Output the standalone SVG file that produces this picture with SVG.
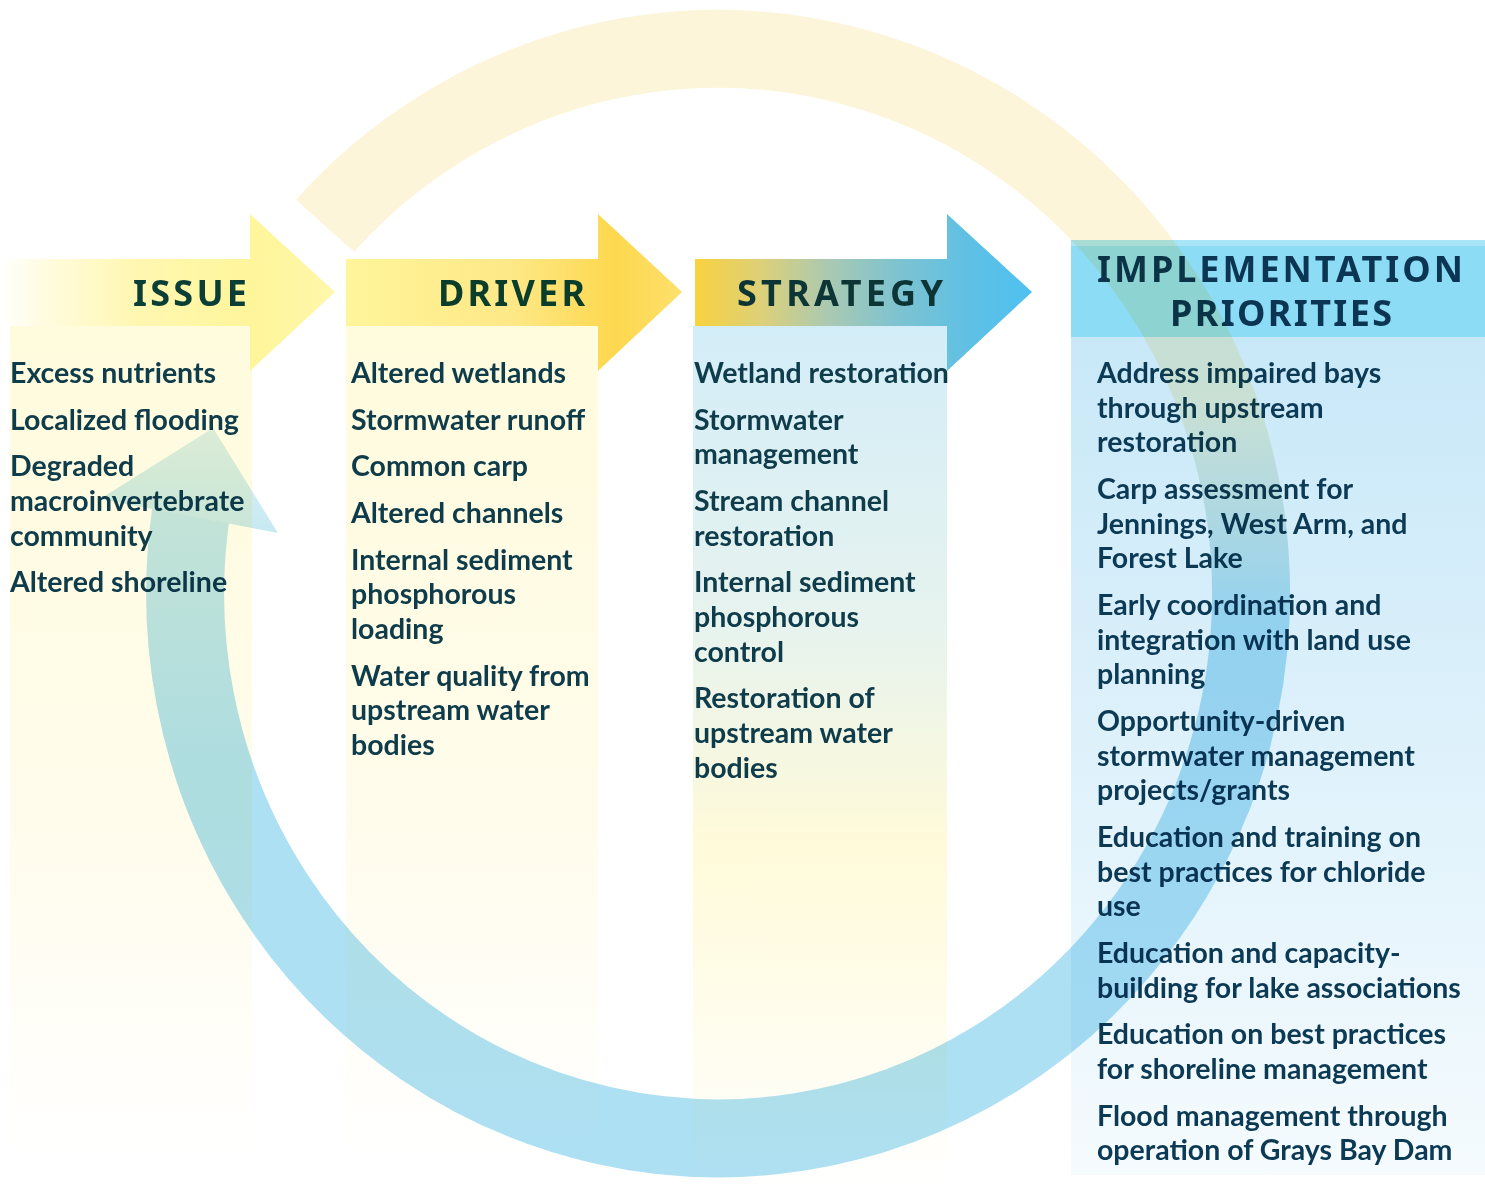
<svg xmlns="http://www.w3.org/2000/svg" width="1485" height="1195" viewBox="0 0 1485 1195">
<defs>
<linearGradient id="gIssueHead" gradientUnits="userSpaceOnUse" x1="0" y1="0" x2="335" y2="0">
<stop offset="0" stop-color="#ffffff"/><stop offset="0.12" stop-color="#fffce2"/><stop offset="0.4" stop-color="#fff7b2"/><stop offset="0.75" stop-color="#fff59b"/><stop offset="1" stop-color="#fff7aa"/>
</linearGradient>
<linearGradient id="gDriverHead" gradientUnits="userSpaceOnUse" x1="346" y1="0" x2="682" y2="0">
<stop offset="0" stop-color="#fff59b"/><stop offset="0.5" stop-color="#fee886"/><stop offset="0.8" stop-color="#fdd84e"/><stop offset="1" stop-color="#fde06c"/>
</linearGradient>
<linearGradient id="gStratHead" gradientUnits="userSpaceOnUse" x1="695" y1="0" x2="1032" y2="0">
<stop offset="0" stop-color="#f9d23e"/><stop offset="0.2" stop-color="#dcd07a"/><stop offset="0.4" stop-color="#a9c9b2"/><stop offset="0.6" stop-color="#7ec3d0"/><stop offset="0.8" stop-color="#60c0e4"/><stop offset="1" stop-color="#4ec1f0"/>
</linearGradient>
<linearGradient id="gBodyY" gradientUnits="userSpaceOnUse" x1="0" y1="326" x2="0" y2="1160">
<stop offset="0" stop-color="#fffbdd"/><stop offset="0.6" stop-color="#fffcec"/><stop offset="1" stop-color="#ffffff"/>
</linearGradient>
<linearGradient id="gBodyS" gradientUnits="userSpaceOnUse" x1="0" y1="326" x2="0" y2="1190">
<stop offset="0" stop-color="#d3edf8"/><stop offset="0.35" stop-color="#e7f3ee"/><stop offset="0.6" stop-color="#fffad9"/><stop offset="1" stop-color="#ffffff"/>
</linearGradient>
<linearGradient id="gBodyI" gradientUnits="userSpaceOnUse" x1="0" y1="337" x2="0" y2="1175">
<stop offset="0" stop-color="#c8e8f8"/><stop offset="1" stop-color="#f5fbfe"/>
</linearGradient>
<linearGradient id="gRingA" gradientUnits="userSpaceOnUse" x1="0" y1="400" x2="0" y2="620">
<stop offset="0" stop-color="#fdf5da"/><stop offset="1" stop-color="#aee0f4"/>
</linearGradient>
<linearGradient id="gRingB" gradientUnits="userSpaceOnUse" x1="0" y1="760" x2="0" y2="500">
<stop offset="0" stop-color="#aee0f4"/><stop offset="1" stop-color="#c4e7f2"/>
</linearGradient>
<linearGradient id="gRingHead" gradientUnits="userSpaceOnUse" x1="0" y1="533" x2="0" y2="428">
<stop offset="0" stop-color="#c8e9f2"/><stop offset="1" stop-color="#dbf0f4"/>
</linearGradient>
</defs>
<style>
.hd{font-family:"Noto Sans","Open Sans",Lato,sans-serif;font-weight:700;font-size:36px}
.tx{font-family:Lato,"Open Sans","Liberation Sans",sans-serif;font-weight:700;font-size:28.5px;fill:#0f3c4a}
.ti{fill:#0c3a55}
.ring{fill:none;stroke-width:78;stroke-linecap:butt}
</style>
<rect width="1485" height="1195" fill="#ffffff"/>

<g id="node-issue">
<rect x="10" y="326" width="242" height="834" fill="url(#gBodyY)"/>
<polygon points="0,259 250,259 250,214 335,292 250,371 250,326 0,326" fill="url(#gIssueHead)"/>
<text class="hd" x="133" y="306" textLength="114" lengthAdjust="spacing" fill="#0b3f36">ISSUE</text>
<text class="tx">
<tspan x="10" y="383">Excess nutrients</tspan>
<tspan x="10" y="430">Localized flooding</tspan>
<tspan x="10" y="476">Degraded</tspan>
<tspan x="10" y="511">macroinvertebrate</tspan>
<tspan x="10" y="546">community</tspan>
<tspan x="10" y="592">Altered shoreline</tspan>
</text>
</g>

<g id="node-driver">
<rect x="346" y="326" width="252" height="834" fill="url(#gBodyY)"/>
<polygon points="346,259 598,259 598,214 682,292 598,371 598,326 346,326" fill="url(#gDriverHead)"/>
<text class="hd" x="438" y="306" textLength="147" lengthAdjust="spacing" fill="#0b3d2b">DRIVER</text>
<text class="tx">
<tspan x="351" y="383">Altered wetlands</tspan>
<tspan x="351" y="430">Stormwater runoff</tspan>
<tspan x="351" y="476">Common carp</tspan>
<tspan x="351" y="523">Altered channels</tspan>
<tspan x="351" y="570">Internal sediment</tspan>
<tspan x="351" y="604">phosphorous</tspan>
<tspan x="351" y="639">loading</tspan>
<tspan x="351" y="686">Water quality from</tspan>
<tspan x="351" y="720">upstream water</tspan>
<tspan x="351" y="755">bodies</tspan>
</text>
</g>

<g id="node-strategy">
<rect x="693" y="326" width="254" height="864" fill="url(#gBodyS)"/>
<polygon points="695,259 947,259 947,214 1032,292 947,371 947,326 695,326" fill="url(#gStratHead)"/>
<text class="hd" x="737" y="306" textLength="206" lengthAdjust="spacing" fill="#0d3535">STRATEGY</text>
<text class="tx">
<tspan x="694" y="383">Wetland restoration</tspan>
<tspan x="694" y="430">Stormwater</tspan>
<tspan x="694" y="464">management</tspan>
<tspan x="694" y="511">Stream channel</tspan>
<tspan x="694" y="546">restoration</tspan>
<tspan x="694" y="592">Internal sediment</tspan>
<tspan x="694" y="627">phosphorous</tspan>
<tspan x="694" y="662">control</tspan>
<tspan x="694" y="708">Restoration of</tspan>
<tspan x="694" y="743">upstream water</tspan>
<tspan x="694" y="778">bodies</tspan>
</text>
</g>

<g id="node-implementation">
<rect x="1071" y="337" width="414" height="838" fill="url(#gBodyI)"/>
<rect x="1071" y="240" width="414" height="97" fill="#8ddcf5"/>
<rect x="1071" y="240" width="414" height="6" fill="#a9e5f8"/>
<text class="hd" x="1097" y="282" textLength="366" lengthAdjust="spacing" fill="#0b3552">IMPLEMENTATION</text>
<text class="hd" x="1170" y="326" textLength="222" lengthAdjust="spacing" fill="#0b3552">PRIORITIES</text>
<text class="tx ti">
<tspan x="1097" y="383">Address impaired bays</tspan>
<tspan x="1097" y="418">through upstream</tspan>
<tspan x="1097" y="452">restoration</tspan>
<tspan x="1097" y="499">Carp assessment for</tspan>
<tspan x="1097" y="534">Jennings, West Arm, and</tspan>
<tspan x="1097" y="568">Forest Lake</tspan>
<tspan x="1097" y="615">Early coordination and</tspan>
<tspan x="1097" y="650">integration with land use</tspan>
<tspan x="1097" y="684">planning</tspan>
<tspan x="1097" y="731">Opportunity-driven</tspan>
<tspan x="1097" y="766">stormwater management</tspan>
<tspan x="1097" y="800">projects/grants</tspan>
<tspan x="1097" y="847">Education and training on</tspan>
<tspan x="1097" y="882">best practices for chloride</tspan>
<tspan x="1097" y="916">use</tspan>
<tspan x="1097" y="963">Education and capacity-</tspan>
<tspan x="1097" y="998">building for lake associations</tspan>
<tspan x="1097" y="1044">Education on best practices</tspan>
<tspan x="1097" y="1079">for shoreline management</tspan>
<tspan x="1097" y="1126">Flood management through</tspan>
<tspan x="1097" y="1160">operation of Grays Bay Dam</tspan>
</text>
</g>

<g id="connectors" style="mix-blend-mode:multiply">
<path class="ring" stroke="url(#gRingA)" d="M325,225.8 A533,545 0 0 1 1212.2,798.2"/>
<path class="ring" stroke="url(#gRingB)" d="M1232.8,735 A533,545 0 0 1 193.1,499.4"/>
<polygon points="100,499 213,428 278,533" fill="url(#gRingHead)"/>
</g>
</svg>
